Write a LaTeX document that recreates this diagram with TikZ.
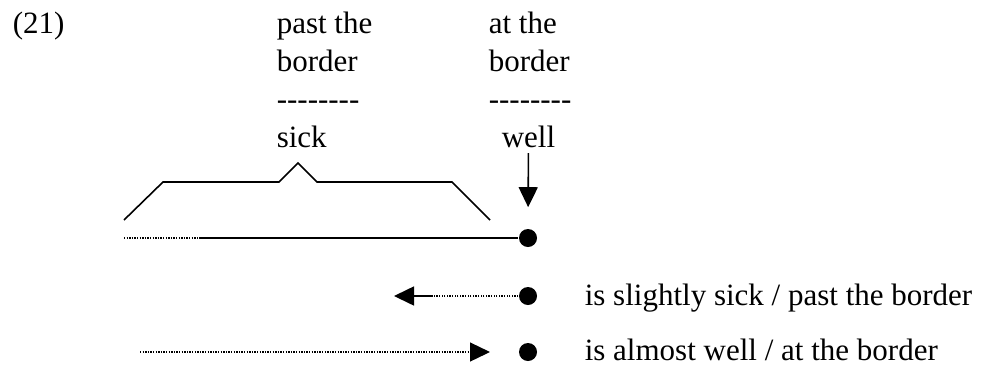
\documentclass[tikz,border=0pt]{standalone}
\usepackage{fontspec}
\setmainfont{Liberation Serif}
\usetikzlibrary{arrows.meta}
\newcommand\hy{-\kern0pt}

\begin{document}
\begin{tikzpicture}[x=1pt,y=-1pt,line width=1.6pt,>={Triangle[length=20pt,width=19pt]},
  txt/.style={anchor=base west,inner sep=0pt,font=\fontsize{31}{31}\selectfont},
  dotline/.style={line width=1.3pt,dash pattern=on 1.3pt off 1.3pt},
  blob/.style={circle,fill,inner sep=0pt,minimum size=18pt}]
\useasboundingbox (0,0) rectangle (990,368);
% 编号
\node[txt] (num) at (12,33) {(21)};
% 表头：左列
\node[txt] (pastA) at (276,33) {past the};
\node[txt] (pastB) at (276,71) {border};
\node[txt] (pastC) at (276,109) {\hy\hy\hy\hy\hy\hy\hy\hy};
\node[txt] (sick) at (276,147) {sick};
% 表头：右列
\node[txt] (atA) at (488,33) {at the};
\node[txt] (atB) at (488,71) {border};
\node[txt] (atC) at (488,109) {\hy\hy\hy\hy\hy\hy\hy\hy};
\node[txt] (well) at (501,147) {well};
% 括号
\draw (124,220) -- (163,182) -- (279,182) -- (298,163) -- (317,182)
  -- (452,182) -- (490,220);
% 主线
\node[blob] (dot1) at (528,238) {};
\coordinate (m0) at (124,238);
\coordinate (m1) at (201,238);
\draw[dotline] (m0) -- (m1);
\draw (m1) -- (dot1);
\draw[->,shorten <=5pt,shorten >=21pt] (well) -- (dot1);
% 第二行：向左
\node[blob] (dot2) at (528,296) {};
\coordinate (l1) at (433,296);
\coordinate (l2) at (394,296);
\draw[dotline] (dot2) -- (l1);
\draw[->] (l1) -- (l2);
\node[txt] (slight) at (584,305) {is slightly sick / past the border};
% 第三行：向右
\node[blob] (dot3) at (528,352) {};
\coordinate (r1) at (140,352);
\coordinate (r2) at (490,352);
\draw[dotline,->] (r1) -- (r2);
\node[txt] (almost) at (584,360) {is almost well / at the border};
\end{tikzpicture}
\end{document}
